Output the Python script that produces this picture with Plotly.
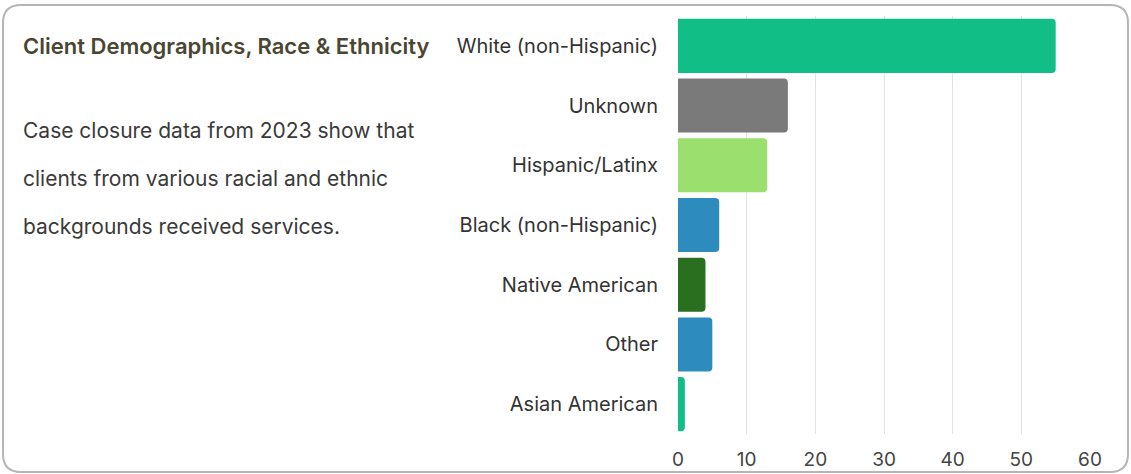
import plotly.graph_objects as go

# Race / ethnicity categories (top to bottom as displayed)
categories = [
    "White (non-Hispanic)",
    "Unknown",
    "Hispanic/Latinx",
    "Black (non-Hispanic)",
    "Native American",
    "Other",
    "Asian American",
]
values = [55, 16, 13, 6, 4, 5, 1]
bar_colors = ["#11be85", "#7a7a7a", "#9be06e", "#2e8bbd", "#2a6e1f", "#2e8bbd", "#11be85"]
x_ticks = [0, 10, 20, 30, 40, 50, 60]

W, H = 1131, 474
ML, MR, MT, MB = 678, 41, 16, 40
PW, PH = W - ML - MR, H - MT - MB

FONT = "Inter"


def px_x(p):
    return (p - ML) / PW


def px_y(p):
    return (H - MB - p) / PH


fig = go.Figure()
fig.add_trace(go.Bar(
    y=categories,
    x=values,
    orientation="h",
    marker=dict(color=bar_colors, line=dict(width=0)),
    hoverinfo="x+y",
))

fig.update_layout(
    width=W,
    height=H,
    margin=dict(l=ML, r=MR, t=MT, b=MB, pad=0),
    plot_bgcolor="white",
    paper_bgcolor="white",
    font=dict(family=FONT, size=18, color="#333333"),
    showlegend=False,
    bargap=0.095,
    barcornerradius=4,
    xaxis=dict(
        range=[0, 60],
        tickvals=x_ticks,
        automargin=False,
        showgrid=True,
        gridcolor="#e3e3e3",
        gridwidth=1,
        zeroline=False,
        showline=False,
        ticks="",
        ticklabelstandoff=12,
        tickfont=dict(size=19, color="#444444"),
    ),
    yaxis=dict(
        categoryorder="array",
        categoryarray=categories[::-1],
        automargin=False,
        showgrid=False,
        zeroline=False,
        showline=False,
        ticks="",
        ticklabelstandoff=19,
        tickfont=dict(size=20, color="#333333"),
    ),
)

# rounded card border
x0, x1 = px_x(3), px_x(1128)
y0, y1 = px_y(472), px_y(5)
rx = 18 / PW
ry = 18 / PH
path = (
    f"M {x0 + rx},{y1} L {x1 - rx},{y1} Q {x1},{y1} {x1},{y1 - ry} "
    f"L {x1},{y0 + ry} Q {x1},{y0} {x1 - rx},{y0} "
    f"L {x0 + rx},{y0} Q {x0},{y0} {x0},{y0 + ry} "
    f"L {x0},{y1 - ry} Q {x0},{y1} {x0 + rx},{y1} Z"
)
fig.add_shape(type="path", path=path, xref="paper", yref="paper",
              line=dict(color="#b5b5b5", width=2), layer="below")

fig.add_annotation(
    x=px_x(21), y=px_y(46), xref="paper", yref="paper",
    xanchor="left", yanchor="middle", showarrow=False,
    text="Client Demographics, Race &amp; Ethnicity",
    font=dict(family=FONT, size=22, color="#4a4632", weight=600),
)
body_lines = [
    "Case closure data from 2023 show that",
    "clients from various racial and ethnic",
    "backgrounds received services.",
]
for i, line in enumerate(body_lines):
    fig.add_annotation(
        x=px_x(21), y=px_y(130 + 48 * i), xref="paper", yref="paper",
        xanchor="left", yanchor="middle", showarrow=False,
        text=line,
        font=dict(family=FONT, size=21, color="#3a3a3a"),
    )

fig.write_html("out.html", config={"displayModeBar": False},
               post_script="document.body.style.margin='0';")
